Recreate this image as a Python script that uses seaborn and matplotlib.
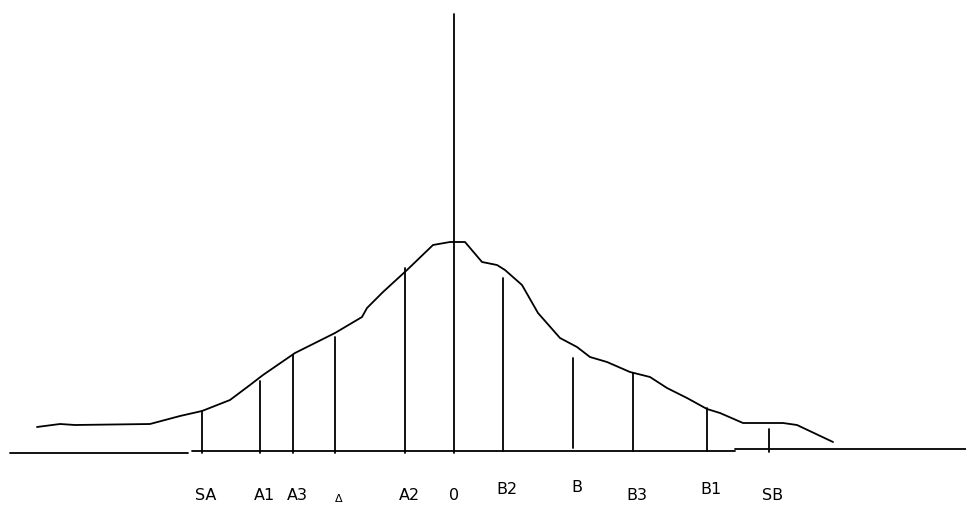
import matplotlib
matplotlib.use("Agg")
import matplotlib.pyplot as plt
import pandas as pd
import seaborn as sns

sns.set_style("white")
plt.rcParams['font.family'] = ['DejaVu Sans']

# Distribution curve: horizontal offset from the centre line, height above the baseline
curve_x = [-417, -394, -379, -304, -274, -252, -224, -204, -191, -159, -137, -119, -92, -87,
           -71, -47, -21, -4, 11, 28, 43, 51, 68, 84, 106, 123, 136, 153, 176, 196,
           213, 233, 253, 266, 289, 329, 343, 379]
curve_h = [26, 29, 28, 29, 37, 42, 53, 68, 78, 100, 111, 120, 136, 145,
           161, 183, 208, 211, 211, 191, 188, 183, 168, 140, 115, 106, 96, 91, 81, 76,
           65, 55, 44, 40, 30, 30, 28, 11]

# Reference levels marked under the curve
marker_labels = ["SA", "A1", "A3", "\u0394", "A2", "0", "B2", "B", "B3", "B1", "SB"]
marker_x = [-252, -194, -161, -119, -49, 0, 49, 119, 179, 253, 315]
marker_top = [42, 72, 98, 116, 185, 439, 175, 95, 80, 45, 24]
marker_bottom = [0, 0, 0, 0, 0, 0, 2, 5, 2, 2, 1]

fig = plt.figure(figsize=(9.66, 5.05), dpi=100)
ax = fig.add_axes([0, 0, 1, 1])
ax.set_xlim(-454, 512)
ax.set_ylim(-52, 453)
ax.axis("off")

df = pd.DataFrame({"x": curve_x, "h": curve_h})
sns.lineplot(data=df, x="x", y="h", ax=ax, color="black", linewidth=1.3,
             sort=False, estimator=None)

# Baseline, drawn in slightly offset pieces
ax.plot([-444, -266], [0, 0], color="black", linewidth=1.3)
ax.plot([-262, 281], [2, 2], color="black", linewidth=1.3)
ax.plot([281, 512], [4, 4], color="black", linewidth=1.3)

label_y = {"B2": -36, "B": -34, "B1": -36, "\u0394": -46}
for lab, x, top, bot in zip(marker_labels, marker_x, marker_top, marker_bottom):
    ax.plot([x, x], [bot, top], color="black", linewidth=1.3)
    size = 8 if lab == "\u0394" else 11.5
    ax.text(x + (4 if lab != "0" else 0), label_y.get(lab, -42), lab,
            ha="center", va="center", fontsize=size, color="black")

fig.savefig("out.png", dpi=100)
